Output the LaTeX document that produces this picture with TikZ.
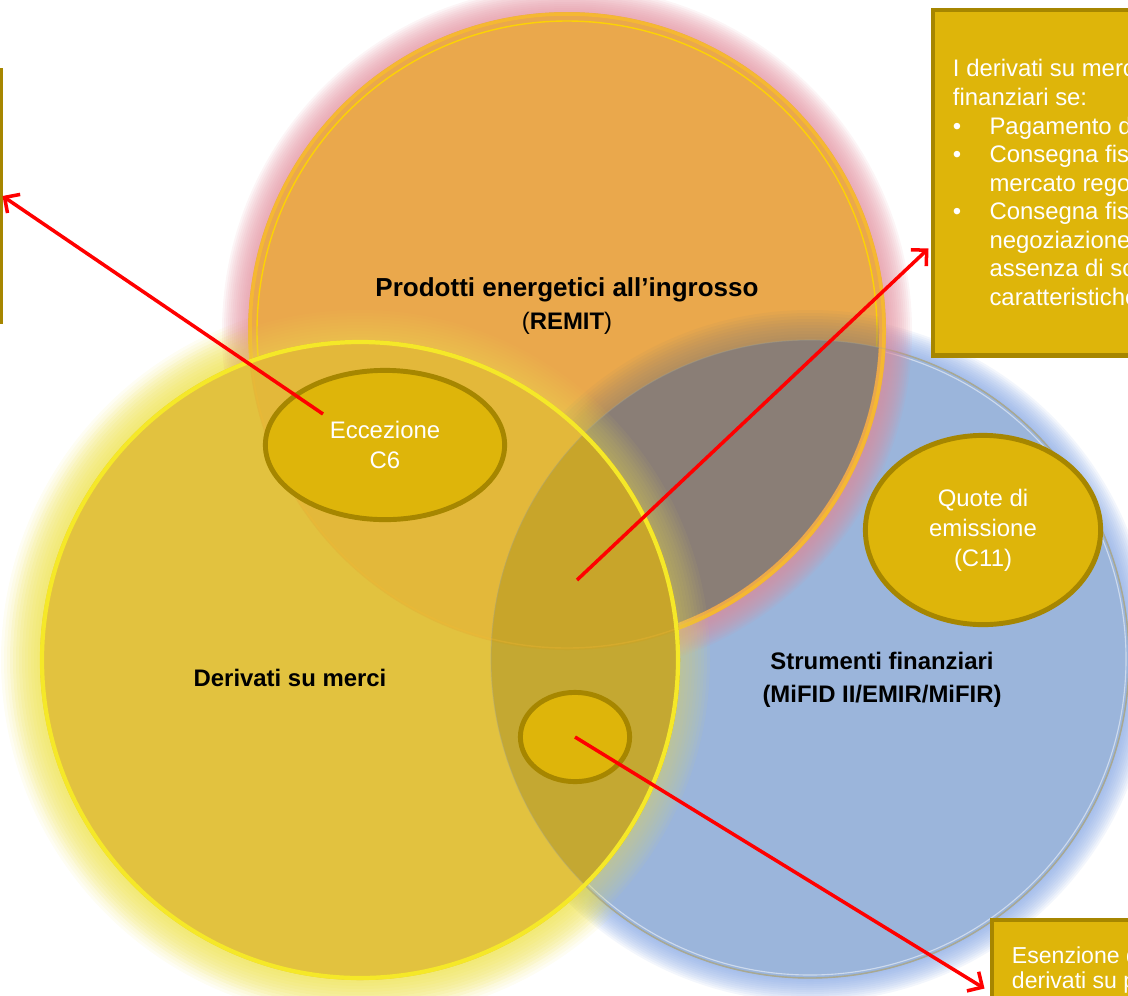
\documentclass[tikz,border=0pt]{standalone}
\usepackage{fontspec}
\setmainfont{Liberation Sans}
\usetikzlibrary{arrows.meta, calc, shapes.geometric}
\definecolor{energia}{RGB}{234,168,76}
\definecolor{energiarim}{RGB}{245,184,50}
\definecolor{energiaglow}{RGB}{226,140,155}
\definecolor{finanza}{RGB}{155,181,219}
\definecolor{finanzarim}{RGB}{168,168,146}
\definecolor{finanzaglow}{RGB}{125,160,225}
\definecolor{merci}{RGB}{226,194,63}
\definecolor{mercirim}{RGB}{245,232,40}
\definecolor{merciglow}{RGB}{238,226,80}
\definecolor{ovlEF}{RGB}{138,126,118}
\definecolor{ovlEM}{RGB}{227,184,58}
\definecolor{ovlMF}{RGB}{196,168,50}
\definecolor{ovlAll}{RGB}{200,165,42}
\definecolor{boxfill}{RGB}{222,181,10}
\definecolor{boxline}{RGB}{166,134,0}
\newcommand{\punto}{\makebox[26pt][l]{\textbullet}}
\newcommand{\rientro}{\hspace*{26pt}}

\begin{document}
\begin{tikzpicture}[x=0.025cm, y=-0.025cm,
    bubble/.style={ellipse, draw=boxline, fill=boxfill, line width=3.5pt,
                   text=white, align=center, font=\fontsize{17}{21.3}\selectfont},
    infobox/.style={rectangle, draw=boxline, fill=boxfill, line width=3.5pt,
                    text=white, align=left, inner xsep=0.5cm},
    label/.style={align=center, font=\fontsize{17}{23.5}\selectfont\bfseries},
    pointer/.style={red, line width=2.5pt, -{Straight Barb[length=8pt, width=16pt]}}]

    \useasboundingbox (0,0) rectangle (1128,995);
    \clip (0,0) rectangle (1128,995);

    % glows behind
    \foreach \k in {2,4,...,24}
        \fill[finanzaglow, opacity=0.09] (810,659) circle[radius=319+\k];
    \foreach \k in {3,6,...,39}
        \fill[merciglow, opacity=0.07] (360,660) circle[radius=320+\k];

    % Strumenti finanziari
    \fill[finanza] (810,659) circle[radius=319];
    \draw[finanzarim, line width=1pt] (810,659) circle[radius=319];
    \draw[white, opacity=0.5, line width=0.8pt] (810,659) circle[radius=316];

    % Prodotti energetici
    \foreach \k in {2,4,...,26}
        \fill[energiaglow, opacity=0.09] (567,331) circle[radius=319+\k];
    \fill[energia] (567,331) circle[radius=319];
    \draw[energiarim, line width=2.5pt] (567,331) circle[radius=317];
    \draw[yellow!70!orange, line width=1pt] (567,331) circle[radius=310];

    % overlap energia / finanza
    \begin{scope}
        \clip (567,331) circle[radius=312];
        \foreach \k in {3,6,...,30}
            \fill[ovlEF, opacity=0.07] (810,659) circle[radius=319+\k];
        \fill[ovlEF] (810,659) circle[radius=319];
    \end{scope}

    % Derivati su merci
    \foreach \k in {3,6,...,30}
        \fill[merciglow, opacity=0.05] (360,660) circle[radius=320+\k];
    \fill[merci] (360,660) circle[radius=320];
    \begin{scope}
        \clip (360,660) circle[radius=320];
        \fill[ovlEM] (567,331) circle[radius=319];
        \fill[ovlMF] (810,659) circle[radius=319];
        \clip (567,331) circle[radius=319];
        \fill[ovlAll] (810,659) circle[radius=319];
    \end{scope}
    \draw[finanzarim, opacity=0.35, line width=0.8pt] (810,659) circle[radius=319];
    \draw[energiarim, opacity=0.3, line width=1pt] (567,331) circle[radius=317];
    \draw[mercirim, line width=3pt] (360,660) circle[radius=318];

    % labels
    \node[label] (energiaLbl) at (567,306)
        {{\fontsize{18.5}{23.5}\selectfont Prodotti energetici all’ingrosso}\\
         {\mdseries(}REMIT{\mdseries)}};
    \node[label] (merciLbl) at (290,678) {Derivati su merci};
    \node[label] (finanzaLbl) at (882,680) {Strumenti finanziari\\(MiFID II/EMIR/MiFIR)};

    % bubbles
    \node[bubble, minimum width=5.98cm, minimum height=3.73cm] (eccez) at (385,445) {Eccezione\\C6};
    \node[bubble, minimum width=5.88cm, minimum height=4.73cm] (quote) at (983,530) {Quote di\\emissione\\(C11)};
    \node[bubble, minimum width=2.73cm, minimum height=2.23cm] (esenz) at (575,737) {};
    \coordinate (triplo) at (577,580);

    % boxes
    \node[infobox, anchor=north east, minimum width=5cm, minimum height=6.3cm] (boxL) at (2.5,67.5) {};
    \node[infobox, anchor=north west, minimum width=5cm, minimum height=8.63cm,
          font=\fontsize{17}{20.3}\selectfont] (boxTR) at (930.5,7.5) {%
        I derivati su merci sono strumenti\\
        finanziari se:\\
        \punto Pagamento di differenziali in contanti\\
        \punto Consegna fisica e negoziazione su un\\
        \rientro mercato regolamentato o MTF\\
        \punto Consegna fisica e negoziazione su un sistema\\
        \rientro negoziazione organizzato (OTF) in\\
        \rientro assenza di scopi commerciali e con\\
        \rientro caratteristiche di altri derivati};
    \node[infobox, anchor=north west, minimum width=5cm, minimum height=2.48cm,
          font=\fontsize{16.4}{17.8}\selectfont] (boxBR) at (989.5,917.5) {%
        Esenzione dagli obblighi per i\\
        derivati su prodotti energetici};

    % pointers
    \draw[pointer] ($(eccez.center)+(-62,-31)$) -- (boxL.east);
    \draw[pointer] (triplo) -- ($(boxTR.north west)+(-2,241)$);
    \draw[pointer] (esenz.center) -- ($(boxBR.north west)+(-5,71)$);
\end{tikzpicture}
\end{document}
